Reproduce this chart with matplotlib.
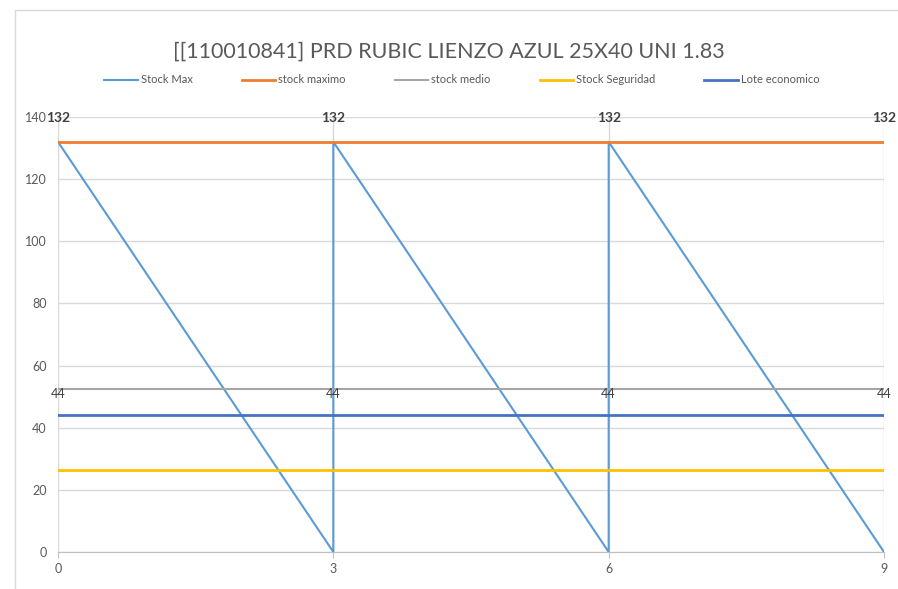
import matplotlib.pyplot as plt
from matplotlib.patches import Rectangle

plt.rcParams['font.family'] = ['Lato', 'DejaVu Sans']

# 数据
TITLE = '[[110010841] PRD RUBIC LIENZO AZUL 25X40 UNI 1.83'
periodos = [0, 3, 6, 9]
stock_max_x = [0, 3, 3, 6, 6, 9]
stock_max_y = [132, 0, 132, 0, 132, 0]
stock_maximo = [132, 132, 132, 132]
stock_medio = [52.5, 52.5, 52.5, 52.5]
stock_seguridad = [26.4, 26.4, 26.4, 26.4]
lote_economico = [44, 44, 44, 44]
y_ticks = [0, 20, 40, 60, 80, 100, 120, 140]

fig = plt.figure(figsize=(8.98, 5.89), dpi=100)
# 外框
fig.patches.append(Rectangle((15 / 898, -0.1), 1.2, 1 - 10 / 589 + 0.1,
                             transform=fig.transFigure, fill=False,
                             edgecolor='#d9d9d9', linewidth=1))

ax = fig.add_axes([58 / 898, 1 - 552 / 589, (884 - 58) / 898, (552 - 117) / 589])

ax.plot(stock_max_x, stock_max_y, color='#5B9BD5', linewidth=1.5, label='Stock Max', zorder=3)
ax.plot(periodos, stock_maximo, color='#ED7D31', linewidth=2, label='stock maximo', zorder=3)
ax.plot(periodos, stock_medio, color='#A5A5A5', linewidth=1.5, label='stock medio', zorder=3)
ax.plot(periodos, stock_seguridad, color='#FFC000', linewidth=2, label='Stock Seguridad', zorder=3)
ax.plot(periodos, lote_economico, color='#4472C4', linewidth=2, label='Lote economico', zorder=3)

# 数据标签
for x, y in zip(periodos, stock_maximo):
    ax.annotate(f'{y:g}', (x, y), xytext=(0, 17), textcoords='offset points',
                ha='center', va='center', fontsize=10, fontweight='bold', color='#404040')
for x, y in zip(periodos, lote_economico):
    ax.annotate(f'{y:g}', (x, y), xytext=(0, 15), textcoords='offset points',
                ha='center', va='center', fontsize=9, color='#404040')

ax.set_xlim(0, 9)
ax.set_ylim(0, 140)
ax.set_xticks(periodos)
ax.set_yticks(y_ticks)
ax.grid(True, color='#d9d9d9', linewidth=1)
ax.set_axisbelow(True)
for side in ['top', 'right', 'left']:
    ax.spines[side].set_visible(False)
ax.spines['bottom'].set_color('#bfbfbf')
ax.tick_params(axis='both', length=0, labelsize=9, labelcolor='#595959', pad=8)
ax.tick_params(axis='x', length=4, color='#bfbfbf', pad=4)

fig.text(0.5, 1 - 52 / 589, TITLE, ha='center', va='center', fontsize=15.5, color='#595959')
fig.legend(loc='center', bbox_to_anchor=(462 / 898, 1 - 80 / 589), ncol=5,
           frameon=False, fontsize=8, handlelength=3.0, columnspacing=4.4,
           handletextpad=0.3, labelcolor='#595959')

fig.savefig('out.png', dpi=100)
